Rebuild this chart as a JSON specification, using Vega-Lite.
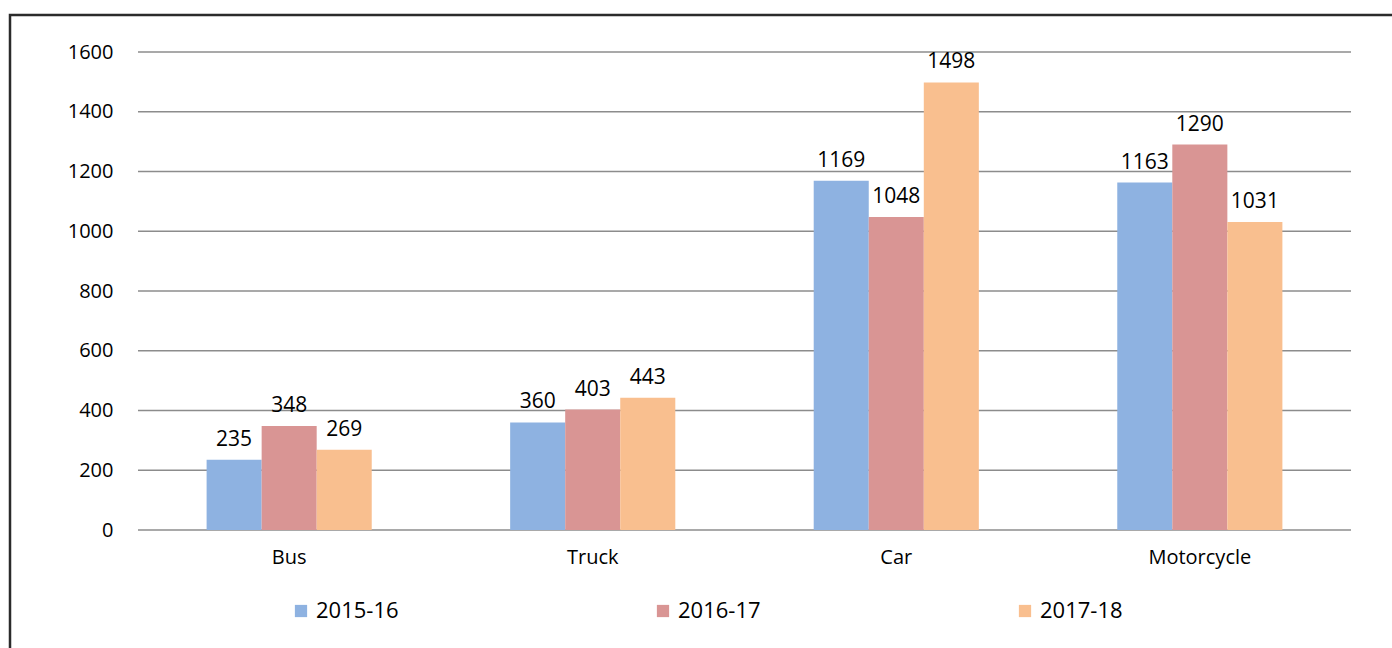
{
  "$schema": "https://vega.github.io/schema/vega-lite/v6.json",
  "autosize": "none",
  "padding": {"left": 10, "top": 15, "right": 0, "bottom": 0},
  "width": 1400,
  "height": 650,
  "background": "white",
  "config": {
    "font": "Open Sans",
    "view": {"stroke": "#2b2b2b", "strokeWidth": 2.5},
    "axis": {"labelFont": "Open Sans", "labelColor": "#000000"}
  },
  "datasets": {
    "accidents": [
      {"type": "Bus", "year": "2015-16", "accidents": 235},
      {"type": "Bus", "year": "2016-17", "accidents": 348},
      {"type": "Bus", "year": "2017-18", "accidents": 269},
      {"type": "Truck", "year": "2015-16", "accidents": 360},
      {"type": "Truck", "year": "2016-17", "accidents": 403},
      {"type": "Truck", "year": "2017-18", "accidents": 443},
      {"type": "Car", "year": "2015-16", "accidents": 1169},
      {"type": "Car", "year": "2016-17", "accidents": 1048},
      {"type": "Car", "year": "2017-18", "accidents": 1498},
      {"type": "Motorcycle", "year": "2015-16", "accidents": 1163},
      {"type": "Motorcycle", "year": "2016-17", "accidents": 1290},
      {"type": "Motorcycle", "year": "2017-18", "accidents": 1031}
    ],
    "grid": [
      {"tick": 0}, {"tick": 200}, {"tick": 400}, {"tick": 600}, {"tick": 800},
      {"tick": 1000}, {"tick": 1200}, {"tick": 1400}, {"tick": 1600}
    ]
  },
  "layer": [
    {
      "data": {"name": "grid"},
      "mark": {"type": "rule", "color": "#8c8c8c", "strokeWidth": 1.5},
      "encoding": {
        "y": {"field": "tick", "type": "quantitative"},
        "x": {"datum": "Bus", "bandPosition": -0.4155},
        "x2": {"datum": "Motorcycle", "bandPosition": 1.4155}
      }
    },
    {
      "data": {"name": "accidents"},
      "mark": {"type": "bar"},
      "encoding": {
        "x": {
          "field": "type", "type": "nominal", "sort": ["Bus", "Truck", "Car", "Motorcycle"],
          "scale": {"domain": ["Bus", "Truck", "Car", "Motorcycle"], "paddingInner": 0.456, "paddingOuter": 0.226, "rangeMin": 128, "rangeMax": 1341},
          "axis": {"title": null, "labelAngle": 0, "labelAlign": "center", "labelBaseline": "top", "labelFontSize": 20, "labelPadding": 17, "ticks": false, "domain": false, "offset": -135}
        },
        "xOffset": {"field": "year", "type": "nominal", "scale": {"paddingInner": 0, "paddingOuter": 0}},
        "y": {
          "field": "accidents", "type": "quantitative",
          "scale": {"domain": [0, 1600], "nice": false, "rangeMin": 515, "rangeMax": 37},
          "axis": {"title": null, "values": [0, 200, 400, 600, 800, 1000, 1200, 1400, 1600], "format": "d", "labelFontSize": 20, "labelPadding": 0, "ticks": false, "domain": false, "grid": false, "offset": -103}
        },
        "color": {
          "field": "year", "type": "nominal",
          "scale": {"domain": ["2015-16", "2016-17", "2017-18"], "range": ["#8EB2E1", "#D99594", "#F9BF8F"]},
          "legend": {
            "title": null, "orient": "none", "direction": "horizontal",
            "legendX": 280, "legendY": 585,
            "symbolType": "square", "symbolSize": 150, "symbolStrokeWidth": 0, "symbolOpacity": 1,
            "labelFontSize": 22, "labelFont": "Open Sans", "labelColor": "#000000", "labelOffset": 4,
            "columnPadding": 253
          }
        }
      }
    },
    {
      "data": {"name": "accidents"},
      "mark": {"type": "text", "baseline": "alphabetic", "dy": -14, "fontSize": 21, "color": "#000000"},
      "encoding": {
        "x": {"field": "type", "type": "nominal", "sort": ["Bus", "Truck", "Car", "Motorcycle"]},
        "xOffset": {"field": "year", "type": "nominal"},
        "y": {"field": "accidents", "type": "quantitative"},
        "text": {"field": "accidents", "type": "quantitative"}
      }
    }
  ]
}
